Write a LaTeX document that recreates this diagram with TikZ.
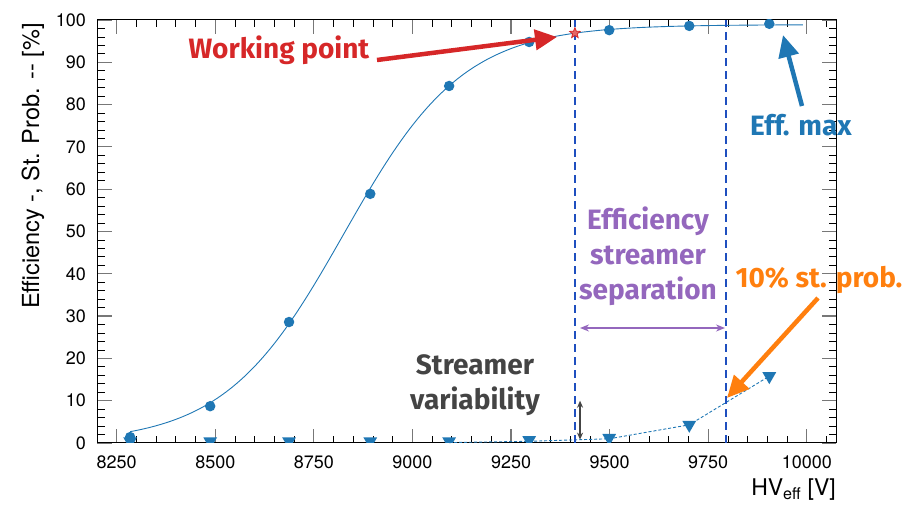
\documentclass[tikz,border=0pt]{standalone}
\usepackage{fontspec}
\setmainfont{TeX Gyre Heros}
\newfontfamily\annfont{Fira Sans}
\usetikzlibrary{arrows.meta,shapes.geometric}
\definecolor{effblue}{HTML}{1F77B4}
\definecolor{vblue}{HTML}{1F4FBF}
\definecolor{wred}{HTML}{D62728}
\definecolor{sorange}{HTML}{FF7F0E}
\definecolor{spurple}{HTML}{9467BD}
\definecolor{dgrey}{HTML}{444444}
\definecolor{tickgrey}{HTML}{777777}
\tikzset{
  effdot/.style={circle,fill=effblue,inner sep=0pt,minimum size=10.5pt},
  sttri/.style={regular polygon,regular polygon sides=3,shape border rotate=180,fill=effblue,inner sep=0pt,minimum size=16pt},
  annot/.style={font=\annfont\bfseries\fontsize{28}{35}\selectfont,align=center,inner sep=0pt},
  ticklab/.style={font=\fontsize{18}{20}\selectfont,inner sep=0pt},
  bigarrow/.style={line width=4.5pt,-{Triangle[length=22pt,width=20pt]}},
  vdash/.style={draw=vblue,line width=2pt,dash pattern=on 8pt off 5pt},
}
\begin{document}
\begin{tikzpicture}[x=1pt,y=1pt]
\useasboundingbox (0,0) rectangle (908,509);
\begin{scope}[x=0.3943pt,y=4.23pt,shift={(-3136.26pt,66pt)}]
  % ticks x
  \foreach \v in {8250,8300,...,10050}{
    \draw[black,line width=0.8pt] (\v,0) -- ++(0pt,7pt);
    \draw[black,line width=0.8pt] (\v,100) -- ++(0pt,-7pt);
  }
  \foreach \v in {8250,8500,...,10000}{
    \draw[tickgrey,line width=1.2pt] (\v,0) -- ++(0pt,14pt);
    \draw[tickgrey,line width=1.2pt] (\v,100) -- ++(0pt,-14pt);
    \node[ticklab] (xl\v) at (\v,0) [yshift=-19.5pt] {\v};
  }
  % ticks y
  \foreach \e in {2,4,...,98}{
    \draw[black,line width=0.8pt] (8200,\e) -- ++(8pt,0pt);
    \draw[black,line width=0.8pt] (10075,\e) -- ++(-7pt,0pt);
  }
  \foreach \e in {0,10,...,100}{
    \draw[tickgrey,line width=1.2pt] (8200,\e) -- ++(15pt,0pt);
    \draw[tickgrey,line width=1.2pt] (10075,\e) -- ++(-14pt,0pt);
    \node[ticklab,anchor=east] (yl\e) at (8200,\e) [xshift=-11pt] {\e};
  }
  \draw[black,line width=1pt] (8200,0) rectangle (10075,100);
  % fit curve
  \draw[effblue,line width=0.9pt] plot[domain=8284:9990,samples=120,smooth] (\x,{98.9/(1+exp(-0.0066*(\x-8826)))});
  % streamer dashed
  \coordinate (s0) at (9093,0.1);
  \coordinate (s1) at (9296,0.4);
  \coordinate (s2) at (9499,1.0);
  \coordinate (s3) at (9702,4.3);
  \coordinate (s4) at (9905,15.8);
  \draw[effblue,line width=0.9pt,dash pattern=on 3pt off 2pt] (s0) -- (s1) -- (s2) -- (s3) -- (s4);
  % vertical lines
  \coordinate (v1b) at (9412,0); \coordinate (v1t) at (9412,100);
  \coordinate (v2b) at (9794,0); \coordinate (v2t) at (9794,100);
  \draw[vdash] (v1b) -- (v1t);
  \draw[vdash] (v2b) -- (v2t);
  % markers (clipped)
  \begin{scope}
    \clip (8200,0) rectangle (10075,100);
    \foreach \v/\s [count=\i] in {8284/0.4,8487/0.4,8687/0.4,8893/0.4,9093/0.4,9296/0.7,9499/1.2,9702/4.3,9905/15.8}{
      \node[sttri] (t\i) at (\v,\s) {};
    }
    \foreach \v/\e [count=\i] in {8284/1.4,8487/8.7,8687/28.6,8893/58.9,9093/84.4,9296/94.8,9499/97.6,9702/98.6,9905/99.1}{
      \node[effdot] (e\i) at (\v,\e) {};
    }
  \end{scope}
  \node[star,star points=5,star point ratio=2.3,minimum size=11pt,inner sep=0pt,draw=wred,fill=wred!70,line width=0.8pt] (wp) at (9412,96.9) {};
  % small double arrow
  \coordinate (sv1) at (9425,0.8);
  \coordinate (sv2) at (9425,10);
  \draw[dgrey,line width=1.5pt,{Stealth[length=7pt,width=6pt]}-{Stealth[length=7pt,width=6pt]}] (sv1) -- (sv2);
\end{scope}
% axis titles
\node[font=\fontsize{23.5}{25}\selectfont,rotate=90,inner sep=0pt] (ylab) at (33,343) {Efficiency -, St. Prob. -{}- [\%]};
\node[font=\fontsize{23}{25}\selectfont,anchor=east,inner sep=0pt] (xlab) at (836,19) {HV\textsubscript{eff} [V]};
% annotations
\node[annot,text=wred] (wpt) at (279,459) {Working point};
\coordinate (wa1) at (377,449);
\coordinate (wa2) at (557,472);
\draw[bigarrow,wred] (wa1) -- (wa2);
\node[annot,text=effblue] (emax) at (801,384) {Eff. max};
\coordinate (ea1) at (802,403);
\coordinate (ea2) at (783,474);
\draw[bigarrow,effblue] (ea1) -- (ea2);
\node[annot,text=dgrey] (strv) at (475,124) {Streamer\\variability};
\node[annot,text=spurple] (esep) at (648,253) {Efficiency\\streamer\\separation};
\coordinate (pa1) at (580,181);
\coordinate (pa2) at (725,181);
\draw[spurple,line width=1.5pt,{Stealth[length=9pt,width=7pt]}-{Stealth[length=9pt,width=7pt]}] (pa1) -- (pa2);
\node[annot,text=sorange] (tenp) at (819,229) {10\% st. prob.};
\coordinate (oa1) at (818,211);
\coordinate (oa2) at (727,111);
\draw[bigarrow,sorange] (oa1) -- (oa2);
\end{tikzpicture}
\end{document}
